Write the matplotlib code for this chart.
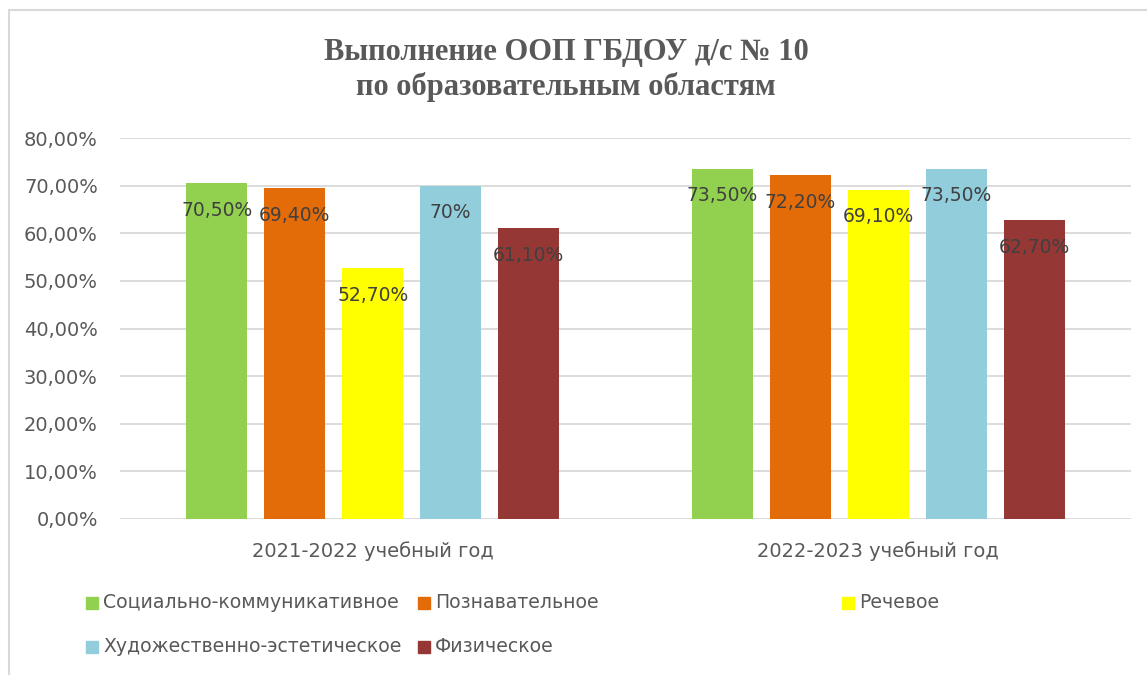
import numpy as np
import matplotlib.pyplot as plt
from matplotlib.patches import Rectangle

# data
years = ['2021-2022 учебный год', '2022-2023 учебный год']
areas = ['Социально-коммуникативное', 'Познавательное', 'Речевое',
         'Художественно-эстетическое', 'Физическое']
values = [
    [0.705, 0.735],
    [0.694, 0.722],
    [0.527, 0.691],
    [0.700, 0.735],
    [0.611, 0.627],
]
labels = [
    ['70,50%', '73,50%'],
    ['69,40%', '72,20%'],
    ['52,70%', '69,10%'],
    ['70%', '73,50%'],
    ['61,10%', '62,70%'],
]
colors = ['#92D050', '#E36C09', '#FFFF00', '#92CDDC', '#953735']
yticks = [0.0, 0.1, 0.2, 0.3, 0.4, 0.5, 0.6, 0.7, 0.8]

W, H = 1147, 675
fig = plt.figure(figsize=(W / 100, H / 100), dpi=100)
ax = fig.add_axes([120 / W, 1 - 519 / H, (1131 - 120) / W, (519 - 138) / H])

x = np.arange(len(years))
width = 0.1207
pitch = 0.1543
for i, (name, vals) in enumerate(zip(areas, values)):
    xs = x + (i - 2) * pitch
    bars = ax.bar(xs, vals, width, color=colors[i], label=name, zorder=2)
    for b, lab in zip(bars, labels[i]):
        ax.annotate(lab, (b.get_x() + b.get_width() / 2, b.get_height()),
                    xytext=(0, -27), textcoords='offset pixels',
                    ha='center', va='center', fontsize=13.5, color='#404040',
                    zorder=3)

ax.set_xlim(-0.5, 1.5)
ax.set_ylim(0, 0.8)
ax.set_yticks(yticks)
ax.set_yticklabels([('%.2f' % (t * 100)).replace('.', ',') + '%' for t in yticks])
ax.set_xticks(x)
ax.set_xticklabels(years)
ax.tick_params(axis='both', length=0, colors='#595959', labelsize=14)
ax.tick_params(axis='y', pad=16)
ax.tick_params(axis='x', pad=16)
ax.grid(axis='y', color='#D9D9D9', linewidth=1.3, zorder=0)
for s in ax.spines.values():
    s.set_visible(False)

fig.suptitle('Выполнение ООП ГБДОУ д/с № 10\nпо образовательным областям',
             x=566 / W, y=1 - 38 / H, va='top', fontsize=22,
             fontweight='bold', family='Liberation Serif', color='#595959',
             linespacing=1.2)

# legend laid out like the original three-column block
col_x = [92, 424, 848]
row_y = [603, 647]
for i, name in enumerate(areas):
    cx = col_x[i % 3]
    cy = row_y[i // 3]
    fig.patches.append(Rectangle(((cx - 6) / W, 1 - (cy + 6) / H), 12 / W, 12 / H,
                                 transform=fig.transFigure, color=colors[i]))
    fig.text((cx + 11) / W, 1 - cy / H, name, ha='left', va='center',
             fontsize=13.6, color='#595959')

# chart border
fig.patches.append(Rectangle((9 / W, -0.1), 1.2, 1 - 10 / H + 0.1,
                             transform=fig.transFigure, fill=False,
                             edgecolor='#D9D9D9', linewidth=1.5))

plt.savefig('out.png', dpi=100)
plt.close()
